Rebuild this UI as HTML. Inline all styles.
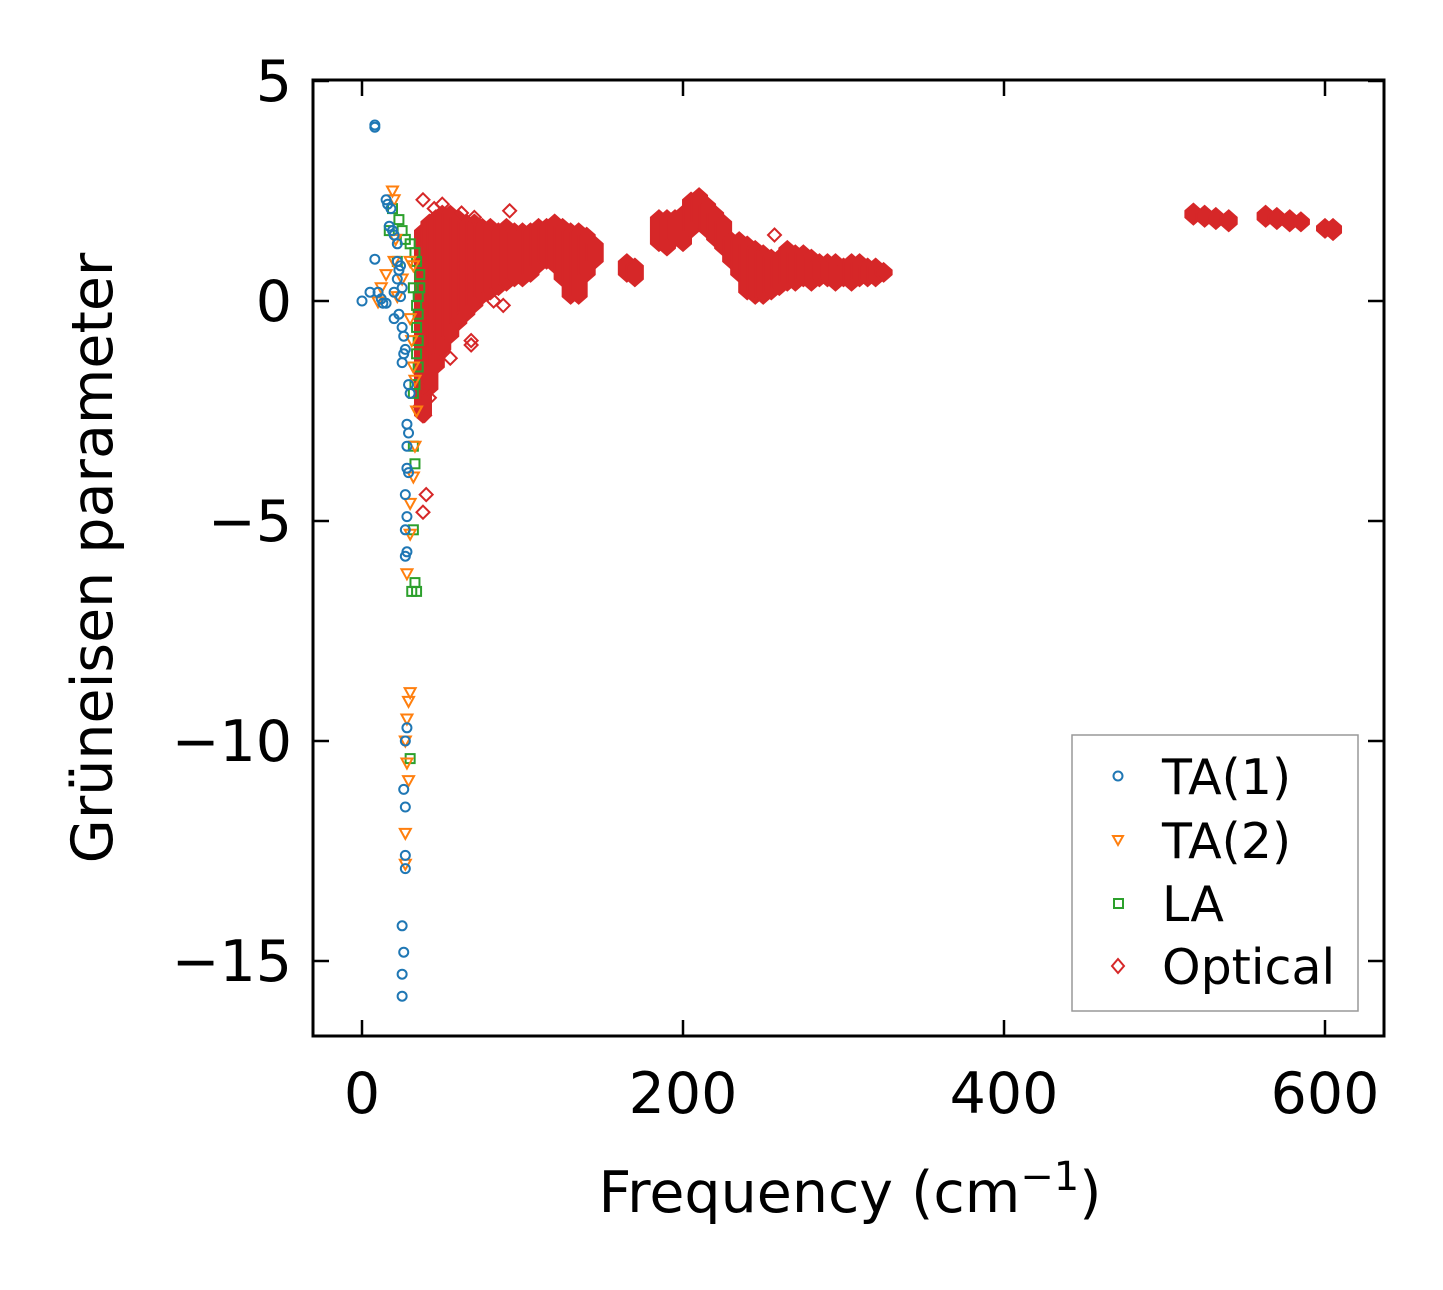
<!DOCTYPE html>
<html><head><meta charset="utf-8"><style>
html,body{margin:0;padding:0;background:#fff;}
svg text{font-family:"DejaVu Sans","Liberation Sans",sans-serif;fill:#000;}
</style></head><body>
<svg id="chart" width="1443" height="1285" viewBox="0 0 1443 1285" xmlns="http://www.w3.org/2000/svg">
<rect width="1443" height="1285" fill="#fff"/>
<g id="marks"></g>
<rect x="313" y="80" width="1071" height="956" fill="none" stroke="#000" stroke-width="3"/>
<g id="axes"></g>
<text transform="translate(112,558) rotate(-90)" text-anchor="middle" font-size="57">Grüneisen parameter</text>
<text x="850" y="1212" text-anchor="middle" font-size="57">Frequency (cm<tspan dy="-22" font-size="40">−1</tspan><tspan dy="22">)</tspan></text>
<g>
<rect x="1072" y="735" width="286" height="276" fill="#fff" stroke="#999" stroke-width="1.5"/>
<circle cx="1118" cy="776" r="4.5" fill="none" stroke="#1f77b4" stroke-width="2"/>
<text x="1162" y="794" font-size="49">TA(1)</text>
<path d="M1113,836 L1123,836 L1118,845 Z" fill="none" stroke="#ff7f0e" stroke-width="2"/>
<text x="1162" y="858" font-size="49">TA(2)</text>
<rect x="1114" y="899" width="9" height="9" fill="none" stroke="#2ca02c" stroke-width="2"/>
<text x="1162" y="921" font-size="49">LA</text>
<path d="M1118,959 L1124,966 L1118,973 L1112,966 Z" fill="none" stroke="#d62728" stroke-width="2"/>
<text x="1162" y="984" font-size="49">Optical</text>
</g>
</svg>
<script>
const xTicks=[0,200,400,600];
const yTicks=[5,0,-5,-10,-15];
const yTickLabels=["5","0","−5","−10","−15"];
const ta1F=[8,8,15,16,18,17,19,20,22,22,23,24,22,20,8,10,12,15,20,23,25,26,25,27,29,30,28,29,28,28,29,27,28,27,28,27,28,27,26,27,27,27,25,26,25,25,0,5,13,25,24,26];
const ta1G=[4.0,3.95,2.3,2.2,2.1,1.7,1.6,1.5,1.3,0.9,0.7,0.8,0.5,0.2,0.95,0.2,0.05,-0.05,-0.4,-0.3,-0.6,-1.2,-1.4,-1.1,-1.9,-2.1,-2.8,-3.0,-3.3,-3.8,-3.9,-4.4,-4.9,-5.2,-5.7,-5.8,-9.7,-10.0,-11.1,-11.5,-12.6,-12.9,-14.2,-14.8,-15.3,-15.8,0.0,0.2,-0.05,0.3,0.1,-0.8];
const ta2F=[19,20,21,15,12,20,25,30,32,30,31,32,33,34,33,32,30,30,28,30,29,28,27,28,29,27,27,10,22];
const ta2G=[2.5,2.3,1.4,0.6,0.3,0.9,0.5,0.9,0.8,-0.4,-0.9,-1.5,-1.8,-2.5,-3.3,-4.0,-4.6,-5.3,-6.2,-8.9,-9.1,-9.5,-10.0,-10.5,-10.9,-12.1,-12.8,-0.02,0.1];
const laF=[17,23,25,27,30,33,34,36,36,35,35,34,35,34,35,33,32,32,33,32,33,34,31,30,22,19,32,34];
const laG=[1.6,1.85,1.6,1.4,1.3,1.1,0.9,0.6,0.3,0.1,-0.3,-0.6,-0.9,-1.2,-1.5,-1.9,-2.1,-3.3,-3.7,-5.2,-6.4,-6.6,-6.6,-10.4,0.9,2.1,0.3,-0.1];
const optBandF=[38,42,46,50,55,60,65,70,75,80,85,90,95,100,105,110,115,120,125,130,135,140,145,165,170,185,190,195,200,205,210,215,220,225,230,235,240,245,250,255,260,265,270,275,280,285,290,295,300,305,310,315,320,325,518,525,532,540,563,570,578,585,600,605];
const optBandMin=[-2.6,-2.0,-1.5,-1.1,-0.8,-0.5,-0.3,-0.1,0.1,0.2,0.3,0.4,0.5,0.5,0.6,0.8,0.9,0.8,0.5,0.1,0.1,0.6,0.9,0.6,0.5,1.3,1.2,1.4,1.3,1.6,1.8,1.6,1.4,1.2,0.9,0.6,0.2,0.1,0.1,0.2,0.3,0.4,0.4,0.5,0.4,0.5,0.5,0.4,0.5,0.4,0.5,0.5,0.5,0.6,1.9,1.85,1.8,1.75,1.85,1.8,1.75,1.75,1.6,1.55];
const optBandMax=[1.6,1.8,1.9,2.0,2.0,1.9,1.8,1.8,1.7,1.7,1.6,1.7,1.6,1.6,1.6,1.7,1.7,1.8,1.7,1.6,1.6,1.5,1.3,0.9,0.8,1.9,1.9,1.9,2.0,2.3,2.4,2.2,2.0,1.8,1.4,1.4,1.3,1.2,1.1,1.0,1.0,1.2,1.1,1.1,1.0,0.9,0.9,0.9,0.8,0.9,0.9,0.8,0.8,0.7,2.05,2.0,1.95,1.9,2.0,1.95,1.9,1.85,1.7,1.7];
const optF=[38,40,38,45,50,62,70,92,257,68,68,82,88,60,40,42,55,48,36,37,39];
const optG=[-4.8,-4.4,2.3,2.1,2.2,2.0,1.9,2.05,1.5,-1.0,-0.9,0.0,-0.1,-0.4,-1.9,-2.2,-1.3,-1.2,-2.4,-2.0,-2.6];

const NS="http://www.w3.org/2000/svg";
function xS(v){return 362+v*1.605;}
function yS(v){return 301-v*44;}
const marks=document.getElementById('marks');
const axes=document.getElementById('axes');
function mk(tag,attrs,parent){const e=document.createElementNS(NS,tag);for(const k in attrs)e.setAttribute(k,attrs[k]);parent.appendChild(e);return e;}

for(let i=0;i<optBandF.length;i++){
  const x=xS(optBandF[i]),yt=yS(optBandMax[i]),yb=yS(optBandMin[i]),h=8;
  const p=mk('path',{d:`M${x},${yt-7} L${x+h},${yt} L${x+h},${yb} L${x},${yb+7} L${x-h},${yb} L${x-h},${yt} Z`,fill:'#d62728',stroke:'#d62728','stroke-width':2},marks);
  
  
}
for(let i=0;i<optF.length;i++){
  const x=xS(optF[i]),y=yS(optG[i]);
  const p=mk('path',{d:`M${x},${y-6.5} L${x+6.5},${y} L${x},${y+6.5} L${x-6.5},${y} Z`,fill:'none',stroke:'#d62728','stroke-width':2},marks);
  
  
}
for(let i=0;i<laF.length;i++){
  const x=xS(laF[i]),y=yS(laG[i]);
  const r=mk('rect',{x:x-4.5,y:y-4.5,width:9,height:9,fill:'none',stroke:'#2ca02c','stroke-width':2},marks);
  
  
}
for(let i=0;i<ta2F.length;i++){
  const x=xS(ta2F[i]),y=yS(ta2G[i]);
  const p=mk('path',{d:`M${x-5.5},${y-4.5} L${x+5.5},${y-4.5} L${x},${y+5.5} Z`,fill:'none',stroke:'#ff7f0e','stroke-width':2},marks);
  
  
}
for(let i=0;i<ta1F.length;i++){
  const c=mk('circle',{cx:xS(ta1F[i]),cy:yS(ta1G[i]),r:4.5,fill:'none',stroke:'#1f77b4','stroke-width':2},marks);
  
  
}
for(const v of xTicks){
  const x=xS(v);
  const t1=mk('line',{x1:x,x2:x,y1:1036,y2:1020,stroke:'#000','stroke-width':2.5},axes);
  
  
  const t2=mk('line',{x1:x,x2:x,y1:80,y2:96,stroke:'#000','stroke-width':2.5},axes);
  
  
  const tl=mk('text',{x:x,y:1113,'text-anchor':'middle','font-size':57},axes);
  tl.textContent=String(v);
  
  
}
yTicks.forEach((v,i)=>{
  const y=yS(v);
  const t1=mk('line',{x1:313,x2:329,y1:y,y2:y,stroke:'#000','stroke-width':2.5},axes);
  
  
  const t2=mk('line',{x1:1384,x2:1368,y1:y,y2:y,stroke:'#000','stroke-width':2.5},axes);
  
  
  const tl=mk('text',{x:292,y:y+20,'text-anchor':'end','font-size':57},axes);
  tl.textContent=yTickLabels[i];
  
  
});
</script>
</body></html>
